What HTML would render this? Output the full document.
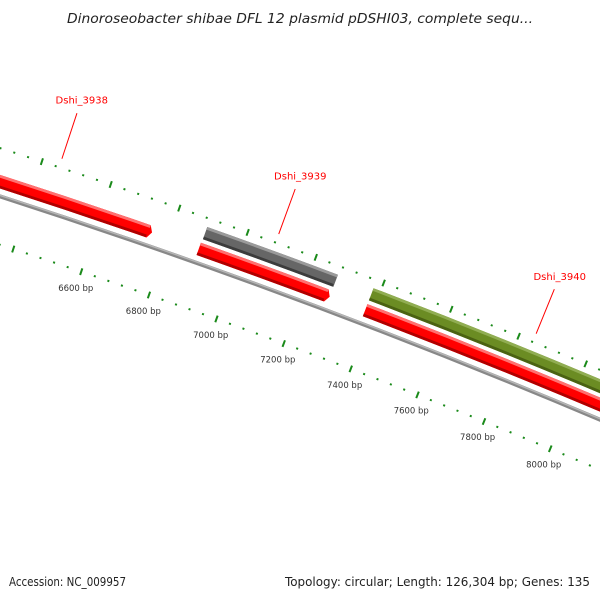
<!DOCTYPE html>
<html><head><meta charset="utf-8"><style>
html,body{margin:0;padding:0;background:#fff;width:600px;height:600px;overflow:hidden;}
svg{display:block;}
</style></head><body>
<svg id="map" xmlns="http://www.w3.org/2000/svg" width="600" height="600" viewBox="0 0 600 600">
<rect width="600" height="600" fill="#fff"/>
<text x="300" y="23" text-anchor="middle" font-family="DejaVu Sans, sans-serif" font-style="italic" font-size="13" fill="#222" textLength="466" lengthAdjust="spacingAndGlyphs">Dinoroseobacter shibae DFL 12 plasmid pDSHI03, complete sequ...</text>
<g id="plot"></g>
<text x="9" y="586" font-family="DejaVu Sans, sans-serif" font-size="12" fill="#222" textLength="117" lengthAdjust="spacingAndGlyphs">Accession: NC_009957</text>
<text x="590" y="586" text-anchor="end" font-family="DejaVu Sans, sans-serif" font-size="12" fill="#222" textLength="305" lengthAdjust="spacingAndGlyphs">Topology: circular; Length: 126,304 bp; Genes: 135</text>
</svg>
<script>
const totalBp = 126304;
const geneNames = ["Dshi_3938", "Dshi_3939-fwd", "Dshi_3939", "Dshi_3940-fwd", "Dshi_3940"];
const geneStarts = [6149, 6888, 6890, 7379, 7379];
const geneEnds = [6751, 7274, 7274, 8305, 8700];
const geneTracks = ["fwd", "fwd", "outer", "outer", "fwd"];
const geneColors = ["red", "red", "gray", "green", "red"];
const labelNames = ["Dshi_3938", "Dshi_3939", "Dshi_3940"];
const labelBp = [6450, 7082, 7842];
const tickLabelBp = [6600, 6800, 7000, 7200, 7400, 7600, 7800, 8000];

const NS = "http://www.w3.org/2000/svg";
const CX = -2226, CY = 7092;
const PHI0 = -71.31;
const R_BACK = 7246, R_FWD = 7260, R_OUT = 7277, R_TICK_OUT = 7292, R_TICK_IN = 7200, R_TXT = 7183;
const plot = document.getElementById("plot");
function ang(b){ return (PHI0 + (b - 6600) * 360 / totalBp) * Math.PI / 180; }
function pt(b, r){ const a = ang(b); return [CX + r * Math.cos(a), CY + r * Math.sin(a)]; }
function mk(tag, attrs){ const e = document.createElementNS(NS, tag); for (const k in attrs) e.setAttribute(k, attrs[k]); plot.appendChild(e); return e; }
function arcPath(b1, b2, r){ const p1 = pt(b1, r), p2 = pt(b2, r); return `M${p1[0]},${p1[1]} A${r},${r} 0 0 1 ${p2[0]},${p2[1]}`; }

let e = mk("path", {d: arcPath(5500, 9500, R_BACK), stroke: "#888", "stroke-width": 4, fill: "none"});


e = mk("path", {d: arcPath(5500, 9500, R_BACK + 1), stroke: "#b5b5b5", "stroke-width": 1.5, fill: "none"});



const palette = {
  red: ["#ff0000", "#ff7070", "#b00000"],
  gray: ["#666666", "#9a9a9a", "#3c3c3c"],
  green: ["#6b8c23", "#90ad52", "#4a6212"]
};
const HALF = 6.5;
for (let i = 0; i < geneNames.length; i++){
  const r = geneTracks[i] === "fwd" ? R_FWD : R_OUT;
  const s = geneStarts[i], en = geneEnds[i];
  const col = palette[geneColors[i]];
  const arrow = geneColors[i] === "red";
  const d = arrow ? 10 : 0;
  const o1 = pt(s, r + HALF), o2 = pt(en - d, r + HALF), tip = pt(en, r), i2 = pt(en - d, r - HALF), i1 = pt(s, r - HALF);
  const path = `M${o1[0]},${o1[1]} A${r+HALF},${r+HALF} 0 0 1 ${o2[0]},${o2[1]} L${arrow ? tip[0] + ',' + tip[1] + ' L' : ''}${i2[0]},${i2[1]} A${r-HALF},${r-HALF} 0 0 0 ${i1[0]},${i1[1]} Z`;
  const g = mk("path", {d: path, fill: col[0]});
  
  
  const hl = mk("path", {d: arcPath(s, en - d, r + HALF - 1.4), stroke: col[1], "stroke-width": 2.8, fill: "none"});
  
  
  const sh = mk("path", {d: arcPath(s, en - d - 2, r - HALF + 1.4), stroke: col[2], "stroke-width": 2.8, fill: "none"});
  
  
}

for (let b = 5800; b <= 9000; b += 40){
  const major = b % 200 === 0;
  for (const r of [R_TICK_OUT, R_TICK_IN]){
    const h = major ? 3.5 : 1;
    const p1 = pt(b, r - h), p2 = pt(b, r + h);
    const t = mk("line", {x1: p1[0], y1: p1[1], x2: p2[0], y2: p2[1], stroke: "#1a8a1a", "stroke-width": 2});
    
    
  }
}
for (const b of tickLabelBp){
  const p = pt(b, R_TXT);
  const t = mk("text", {x: p[0], y: p[1] + 3, "text-anchor": "middle", "font-family": "DejaVu Sans, sans-serif", "font-size": 8.5, fill: "#333"});
  t.textContent = b + " bp";
  
  
}
for (let i = 0; i < labelNames.length; i++){
  const p1 = pt(labelBp[i], 7301), p2 = pt(labelBp[i], 7349), pt3 = pt(labelBp[i], 7358);
  const l = mk("line", {x1: p1[0], y1: p1[1], x2: p2[0], y2: p2[1], stroke: "#ff0000", "stroke-width": 1});
  
  
  const t = mk("text", {x: pt3[0] + 2, y: pt3[1] - 1, "text-anchor": "middle", "font-family": "DejaVu Sans, sans-serif", "font-size": 10, fill: "#ff0000"});
  t.textContent = labelNames[i];
  
  
}
</script>
</body></html>
